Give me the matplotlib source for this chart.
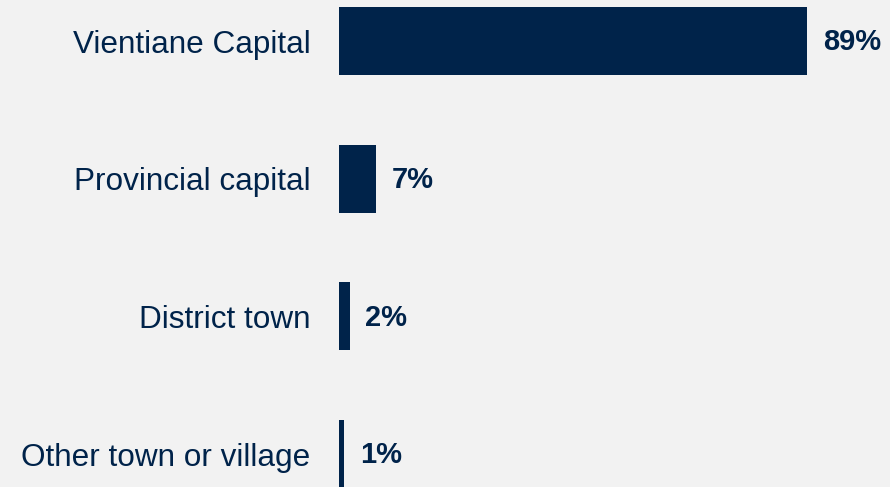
import matplotlib.pyplot as plt

categories = ["Vientiane Capital", "Provincial capital", "District town", "Other town or village"]
values = [89, 7, 2, 1]
value_labels = ["89%", "7%", "2%", "1%"]

navy = "#00234a"
bg = "#f2f2f2"

fig = plt.figure(figsize=(8.9, 4.87), dpi=100, facecolor=bg)
ax = fig.add_axes([339 / 890, 0, 1 - 339 / 890, 1])
ax.set_facecolor(bg)

pos = list(range(len(categories)))
ax.barh(pos, values, height=0.495, color=navy)

ax.set_ylim(3.239, -0.298)
ax.set_xlim(0, (890 - 339) / 5.26)

for p, v, lab in zip(pos, values, value_labels):
    ax.text(v + 2.95, p + 0.01, lab, va="center", ha="left", fontsize=21,
            fontweight="bold", color=navy, family="Liberation Sans")

ax.set_yticks(pos)
ax.set_yticklabels(categories, fontsize=22.7, color=navy, family="Liberation Sans")
ax.tick_params(axis="y", length=0, pad=20.5)
ax.set_xticks([])
for s in ax.spines.values():
    s.set_visible(False)

fig.savefig("out.png", dpi=100, facecolor=bg)
